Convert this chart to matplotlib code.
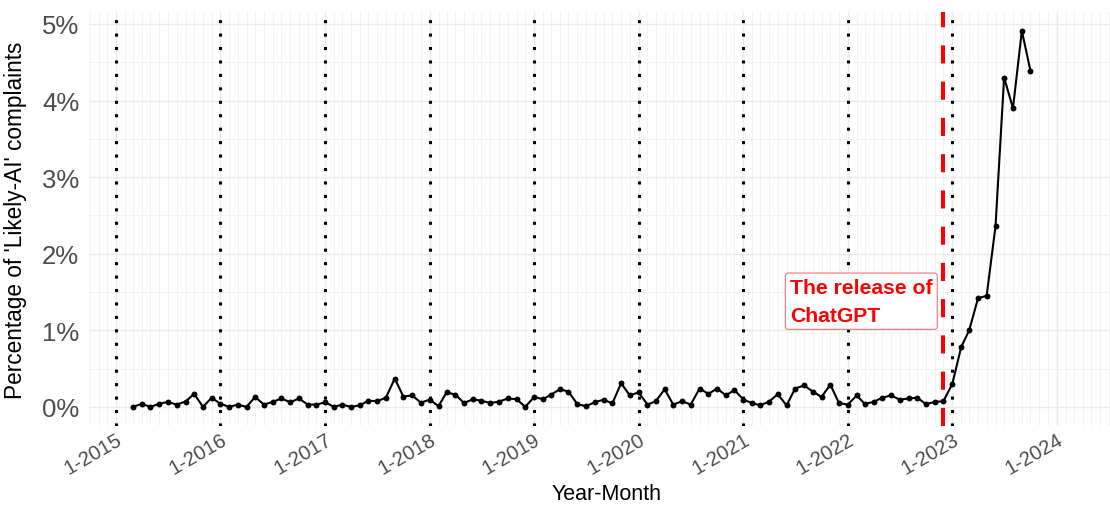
import matplotlib
matplotlib.use("Agg")
import matplotlib.pyplot as plt
import matplotlib.dates as mdates
import matplotlib.transforms as mtransforms
from matplotlib.ticker import FixedLocator, MultipleLocator
import datetime as dt
import numpy as np

plt.rcParams['font.family'] = ['Liberation Sans', 'DejaVu Sans']

# ---- data ----
start_year, start_month = 2015, 3
pct_likely_ai = [
    # 2015 (Mar-Dec)
    0.00, 0.04, 0.00, 0.04, 0.065, 0.03, 0.07, 0.17, 0.00, 0.12,
    # 2016
    0.04, 0.00, 0.03, 0.00, 0.13, 0.03, 0.065, 0.11, 0.06, 0.11, 0.03, 0.03,
    # 2017
    0.06, 0.00, 0.03, 0.00, 0.02, 0.08, 0.075, 0.12, 0.37, 0.135, 0.15, 0.055,
    # 2018
    0.095, 0.01, 0.19, 0.16, 0.05, 0.10, 0.08, 0.05, 0.07, 0.11, 0.10, 0.00,
    # 2019
    0.13, 0.10, 0.16, 0.23, 0.20, 0.035, 0.01, 0.06, 0.095, 0.045, 0.31, 0.15,
    # 2020
    0.19, 0.03, 0.075, 0.23, 0.03, 0.075, 0.03, 0.24, 0.17, 0.24, 0.15, 0.22,
    # 2021
    0.095, 0.05, 0.02, 0.07, 0.165, 0.02, 0.24, 0.28, 0.20, 0.13, 0.29, 0.05,
    # 2022
    0.03, 0.15, 0.04, 0.065, 0.12, 0.15, 0.095, 0.11, 0.12, 0.035, 0.065, 0.075,
    # 2023 (Jan-Oct)
    0.30, 0.78, 1.00, 1.42, 1.45, 2.36, 4.30, 3.90, 4.91, 4.39,
]
year_lines = list(range(2015, 2024))
tick_years = list(range(2015, 2025))
tick_labels = [f"1-{y}" for y in tick_years]
release_date = dt.date(2022, 11, 30)
annotation_text = "The release of\nChatGPT"
y_ticks = [0, 1, 2, 3, 4, 5]

months = []
y, m = start_year, start_month
for _ in pct_likely_ai:
    months.append(dt.date(y, m, 1))
    m += 1
    if m > 12:
        m = 1
        y += 1

# ---- figure ----
W, H = 1110, 506
fig = plt.figure(figsize=(W / 100, H / 100), dpi=100)
px_l, px_r, px_t, px_b = 89, 1110, 13, 426.7
ax = fig.add_axes([px_l / W, 1 - px_b / H, (px_r - px_l) / W, (px_b - px_t) / H])

# x mapping: 2015-01-01 at px 116, 2023-01-01 at px 952.3
d0 = mdates.date2num(dt.date(2015, 1, 1))
d1 = mdates.date2num(dt.date(2023, 1, 1))
ppd = (952.3 - 116) / (d1 - d0)
ax.set_xlim(d0 - (116 - px_l) / ppd, d0 + (px_r - 116) / ppd)
ax.set_ylim(-0.2455, 5.156)

# grids
minor_x = []
for yy in range(2014, 2025):
    for mm in range(1, 13):
        minor_x.append(mdates.date2num(dt.date(yy, mm, 1)))
ax.xaxis.set_minor_locator(FixedLocator(minor_x))
ax.yaxis.set_minor_locator(MultipleLocator(0.5))
ax.grid(which='major', color='#EBEBEB', linewidth=1.0)
ax.grid(which='minor', color='#F3F3F3', linewidth=0.7)
ax.set_axisbelow(True)
for s in ax.spines.values():
    s.set_visible(False)

# dotted year lines
for yr in year_lines:
    ax.axvline(mdates.date2num(dt.date(yr, 1, 1)), color='black',
               linewidth=2.2, linestyle=(0, (1, 3.4)), dash_capstyle='butt', zorder=2)

# release line
ax.axvline(mdates.date2num(release_date), color='#FF0000', linewidth=2.9,
           linestyle=(0, (4.5, 4.5)), zorder=3)

# data
xd = mdates.date2num(months)
ax.plot(xd, pct_likely_ai, color='black', linewidth=1.5, zorder=4)
ax.scatter(xd, pct_likely_ai, s=18, color='black', zorder=5, linewidths=0)

# annotation
ax.text(d0 + (790 - 116) / ppd, 1.38, annotation_text, color='#FF0000',
        fontsize=15.2, fontweight='bold', ha='left', va='center', linespacing=1.6,
        bbox=dict(boxstyle='round,pad=0.22,rounding_size=0.15', facecolor='white',
                  edgecolor='#FF7070', linewidth=0.8), zorder=6)

# ticks
ax.set_xticks([mdates.date2num(dt.date(yy, 1, 1)) for yy in tick_years])
ax.set_xticklabels(tick_labels, rotation=30, ha='right', va='top',
                   rotation_mode='anchor', color='#4D4D4D', fontsize=14.6)
offset = mtransforms.ScaledTranslation(5 / 100, 0, fig.dpi_scale_trans)
for lab in ax.get_xticklabels():
    lab.set_transform(lab.get_transform() + offset)
ax.set_yticks(y_ticks)
ax.set_yticklabels([f"{v}%" for v in y_ticks], color='#4D4D4D', fontsize=18.5)
ax.tick_params(axis='both', which='both', length=0)
ax.tick_params(axis='y', pad=7)
ax.tick_params(axis='x', pad=2.5)

ax.set_xlabel("Year-Month", fontsize=15.5, color='black')
ax.xaxis.set_label_coords((607 - px_l) / (px_r - px_l), -(495 - px_b) / (px_b - px_t))
ax.xaxis.label.set_va('center')
ax.set_ylabel("Percentage of 'Likely-AI' complaints", fontsize=16.3, color='black')
ax.yaxis.set_label_coords(-(px_l - 16) / (px_r - px_l), 0.5)
ax.yaxis.label.set_va('center')

fig.savefig("out.png", dpi=100, facecolor='white')
